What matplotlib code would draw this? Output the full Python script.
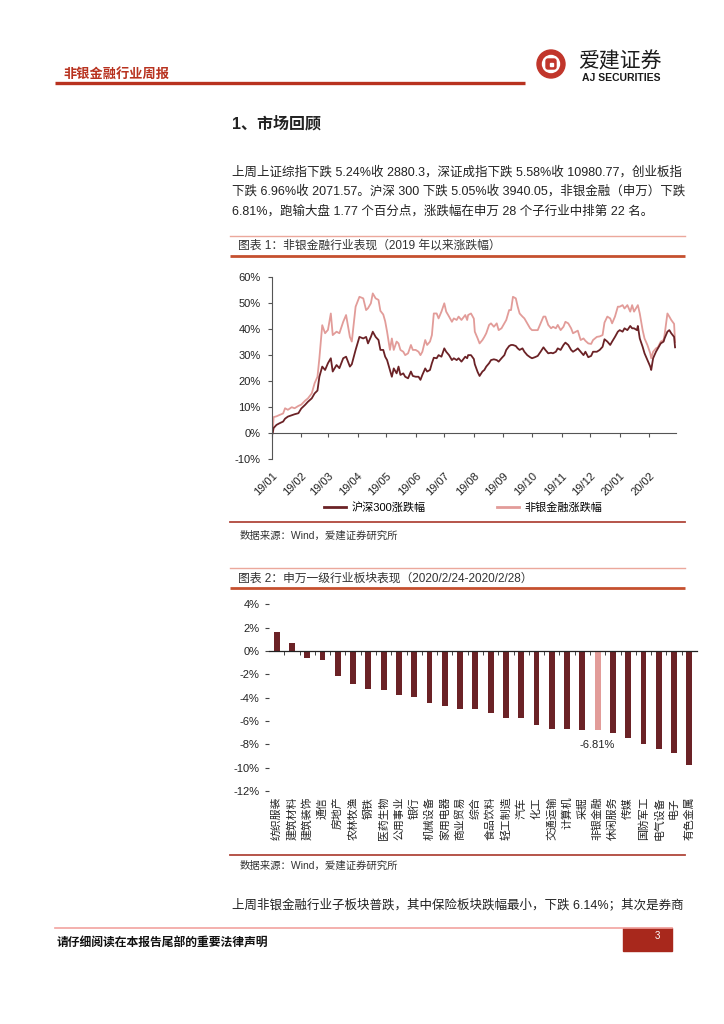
import matplotlib
matplotlib.use('Agg')
import matplotlib.pyplot as plt
import matplotlib.dates as mdates
from matplotlib.patches import Circle, Rectangle, FancyBboxPatch
import numpy as np
import pandas as pd

plt.rcParams['font.family'] = ['Liberation Sans', 'Noto Sans CJK SC', 'DejaVu Sans']
plt.rcParams['axes.unicode_minus'] = False

W, H = 724, 1024

# ---------------- Chart 1 data (cumulative change since 2019, %) ----------------
dates = [
    '2019-01-02', '2019-01-03', '2019-01-06', '2019-01-09', '2019-01-13', '2019-01-15',
    '2019-01-18', '2019-01-22', '2019-01-25', '2019-01-29', '2019-02-01', '2019-02-05',
    '2019-02-08', '2019-02-12', '2019-02-15', '2019-02-18', '2019-02-20', '2019-02-23',
    '2019-02-26', '2019-03-01', '2019-03-04', '2019-03-06', '2019-03-10', '2019-03-13',
    '2019-03-17', '2019-03-20', '2019-03-24', '2019-03-26', '2019-03-30', '2019-04-03',
    '2019-04-07', '2019-04-10', '2019-04-12', '2019-04-15', '2019-04-17', '2019-04-20',
    '2019-04-23', '2019-04-25', '2019-04-28', '2019-04-30', '2019-05-02', '2019-05-05',
    '2019-05-07', '2019-05-09', '2019-05-12', '2019-05-14', '2019-05-16', '2019-05-19',
    '2019-05-21', '2019-05-24', '2019-05-27', '2019-05-29', '2019-06-01', '2019-06-04',
    '2019-06-06', '2019-06-08', '2019-06-11', '2019-06-13', '2019-06-16', '2019-06-18',
    '2019-06-20', '2019-06-23', '2019-06-25', '2019-06-28', '2019-07-01', '2019-07-03',
    '2019-07-06', '2019-07-09', '2019-07-11', '2019-07-14', '2019-07-16', '2019-07-19',
    '2019-07-23', '2019-07-25', '2019-07-26', '2019-07-29', '2019-08-01', '2019-08-02',
    '2019-08-05', '2019-08-07', '2019-08-10', '2019-08-12', '2019-08-14', '2019-08-17',
    '2019-08-19', '2019-08-22', '2019-08-25', '2019-08-27', '2019-08-30', '2019-09-02',
    '2019-09-04', '2019-09-07', '2019-09-09', '2019-09-11', '2019-09-14', '2019-09-16',
    '2019-09-18', '2019-09-21', '2019-09-23', '2019-09-26', '2019-09-29', '2019-10-01',
    '2019-10-04', '2019-10-07', '2019-10-10', '2019-10-13', '2019-10-15', '2019-10-18',
    '2019-10-21', '2019-10-23', '2019-10-26', '2019-10-28', '2019-10-31', '2019-11-03',
    '2019-11-05', '2019-11-08', '2019-11-11', '2019-11-13', '2019-11-16', '2019-11-18',
    '2019-11-21', '2019-11-24', '2019-11-26', '2019-11-29', '2019-12-02', '2019-12-04',
    '2019-12-08', '2019-12-11', '2019-12-14', '2019-12-16', '2019-12-19', '2019-12-22',
    '2019-12-24', '2019-12-27', '2019-12-30', '2020-01-01', '2020-01-04', '2020-01-06',
    '2020-01-09', '2020-01-12', '2020-01-14', '2020-01-16', '2020-01-19', '2020-01-20',
    '2020-01-22', '2020-01-25', '2020-01-27', '2020-01-30', '2020-02-02', '2020-02-03',
    '2020-02-05', '2020-02-08', '2020-02-10', '2020-02-13', '2020-02-16', '2020-02-17',
    '2020-02-20', '2020-02-22', '2020-02-24', '2020-02-27', '2020-02-28',
]
hs300_chg = [
    0.0, 2.0, 3.2, 3.8, 4.5, 5.6, 6.4, 6.9, 7.3, 7.7, 9.5, 10.9,
    12.1, 13.4, 15.3, 16.4, 21.7, 25.6, 24.3, 26.9, 28.8, 23.7, 26.2, 25.0,
    28.8, 29.4, 25.6, 26.5, 32.0, 37.0, 36.4, 37.0, 34.5, 37.0, 39.0, 37.0,
    35.8, 32.0, 32.0, 29.4, 28.1, 24.3, 21.7, 24.9, 23.0, 25.6, 22.4, 23.0,
    21.7, 21.1, 23.7, 22.0, 21.7, 21.7, 20.5, 22.4, 24.9, 23.7, 24.3, 26.9,
    29.0, 28.8, 30.0, 29.4, 32.6, 31.3, 30.0, 28.1, 28.8, 28.1, 28.8, 27.5,
    29.4, 28.8, 30.0, 30.0, 28.5, 26.5, 23.5, 22.0, 23.7, 24.3, 25.6, 26.9,
    28.1, 28.4, 28.1, 27.5, 28.8, 30.0, 32.0, 33.5, 33.9, 33.9, 33.5, 32.6,
    32.0, 32.6, 31.3, 30.0, 29.2, 28.8, 29.2, 29.7, 31.3, 33.0, 32.0, 30.7,
    30.9, 30.7, 31.3, 32.6, 32.0, 33.9, 34.8, 33.9, 32.0, 31.3, 32.0, 32.6,
    31.3, 30.0, 31.3, 29.2, 29.7, 31.3, 31.3, 32.0, 33.2, 36.1, 35.2, 33.9,
    35.2, 37.0, 39.0, 39.6, 39.0, 40.3, 39.6, 41.2, 40.3, 40.3, 39.6, 41.2,
    36.4, 33.2, 30.7, 28.1, 25.6, 24.3, 28.8, 31.3, 32.6, 34.5, 35.2, 36.4,
    39.0, 39.6, 38.4, 37.0, 33.0,
]
nonbank_chg = [
    0.0, 6.2, 6.5, 7.0, 7.6, 9.6, 9.0, 10.0, 9.6, 10.5, 11.0, 12.5,
    13.4, 15.3, 19.2, 21.7, 28.8, 41.5, 38.4, 39.7, 46.0, 37.7, 39.0, 38.4,
    42.8, 45.4, 37.0, 35.2, 48.6, 52.4, 51.8, 47.3, 48.0, 49.9, 53.7, 51.8,
    51.2, 47.0, 45.6, 43.0, 39.0, 32.0, 36.4, 32.0, 35.2, 34.5, 32.0, 31.3,
    30.0, 30.7, 33.9, 32.0, 32.0, 31.3, 30.0, 31.3, 35.8, 33.9, 35.2, 37.7,
    46.0, 46.0, 44.1, 46.7, 49.9, 46.7, 44.8, 42.8, 44.1, 43.5, 44.8, 43.5,
    45.4, 43.5, 45.4, 46.0, 44.0, 39.0, 36.4, 34.5, 35.8, 37.0, 38.4, 41.6,
    42.2, 40.9, 42.2, 39.6, 40.3, 42.2, 43.5, 47.3, 47.3, 52.4, 51.8, 48.6,
    46.0, 44.8, 44.1, 42.2, 40.3, 39.6, 39.6, 39.6, 42.2, 44.8, 44.8, 41.6,
    40.3, 40.9, 40.3, 41.6, 39.6, 40.9, 42.8, 42.2, 40.3, 38.4, 39.0, 39.4,
    35.8, 36.4, 35.5, 34.5, 34.3, 35.8, 37.0, 37.2, 37.7, 42.5, 44.8, 44.1,
    42.2, 44.8, 48.6, 48.6, 49.2, 47.9, 49.2, 46.7, 49.2, 46.7, 48.6, 49.2,
    46.0, 39.6, 36.4, 33.9, 30.7, 28.8, 31.3, 32.6, 33.0, 35.2, 35.8, 37.7,
    46.0, 44.8, 43.5, 42.0, 35.0,
]
series_names = ['沪深300涨跌幅', '非银金融涨跌幅']
y1_ticks = [-10, 0, 10, 20, 30, 40, 50, 60]

# ---------------- Chart 2 data (weekly change, %) ----------------
industries = ['纺织服装', '建筑材料', '建筑装饰', '通信', '房地产', '农林牧渔', '钢铁',
              '医药生物', '公用事业', '银行', '机械设备', '家用电器', '商业贸易', '综合',
              '食品饮料', '轻工制造', '汽车', '化工', '交通运输', '计算机', '采掘',
              '非银金融', '休闲服务', '传媒', '国防军工', '电气设备', '电子', '有色金属']
weekly_chg = [1.62, 0.70, -0.57, -0.80, -2.15, -2.83, -3.29, -3.38, -3.75, -3.98,
              -4.49, -4.72, -4.98, -4.98, -5.35, -5.72, -5.72, -6.35, -6.70, -6.72,
              -6.79, -6.81, -7.01, -7.44, -7.98, -8.44, -8.78, -9.80]
highlight = '非银金融'
y2_ticks = [-12, -10, -8, -6, -4, -2, 0, 2, 4]

# ---------------- colours ----------------
DARK = '#6B2226'
LIGHT = '#E29C99'
RED = '#B8321F'
ORANGE = '#C5502F'
TXT = '#222222'
CJK = ['Noto Sans CJK SC', 'DejaVu Sans']

fig = plt.figure(figsize=(W / 100, H / 100), dpi=100)
page = fig.add_axes([0, 0, 1, 1])
page.set_xlim(0, W)
page.set_ylim(H, 0)
page.axis('off')

# ---- header ----
page.text(63, 74, '非银金融行业周报', fontsize=9.5, fontweight='bold', color=RED,
          va='center', ha='left', family=CJK)
page.plot([55, 525], [83, 83], color=RED, lw=2.4, solid_capstyle='butt')
page.add_patch(Circle((551, 64), 14, color='#C1362B'))
page.add_patch(Circle((551, 64), 8.5, color='white'))
page.add_patch(FancyBboxPatch((546, 59), 10, 10, boxstyle='round,pad=0,rounding_size=2',
                              color='#C1362B'))
page.add_patch(Rectangle((549.5, 62.5), 3, 3, color='white'))
page.text(578, 61, '爱建证券', fontsize=15, color='#1a1a1a', va='center', ha='left', family=CJK)
page.text(582, 78, 'AJ SECURITIES', fontsize=7.5, fontweight='bold', color='#1a1a1a',
          va='center', ha='left')

# ---- section title and paragraph ----
page.text(232, 124, '1、市场回顾', fontsize=11.5, fontweight='bold', color=TXT, va='center')
body = ['上周上证综指下跌 5.24%收 2880.3，深证成指下跌 5.58%收 10980.77，创业板指',
        '下跌 6.96%收 2071.57。沪深 300 下跌 5.05%收 3940.05，非银金融（申万）下跌',
        '6.81%，跑输大盘 1.77 个百分点，涨跌幅在申万 28 个子行业中排第 22 名。']
for line, yy in zip(body, [172, 191.5, 211]):
    page.text(232, yy, line, fontsize=9, color=TXT, va='center')


def frame(top_thin, title_y, thick_y, bottom_y, source_y, title):
    page.plot([230, 685], [top_thin, top_thin], color='#EBA89C', lw=1)
    page.text(238, title_y, title, fontsize=8.5, color='#333333', va='center')
    page.plot([230, 685], [thick_y, thick_y], color=ORANGE, lw=2, solid_capstyle='butt')
    page.plot([230, 685], [bottom_y, bottom_y], color='#B0473A', lw=1.3)
    page.text(240, source_y, '数据来源：Wind，爱建证券研究所', fontsize=7.5, color='#333333',
              va='center')


frame(236, 245.5, 255.7, 522, 536, '图表 1：非银金融行业表现（2019 年以来涨跌幅）')
frame(568.3, 578.3, 588.3, 855, 866, '图表 2：申万一级行业板块表现（2020/2/24-2020/2/28）')

page.text(232, 905, '上周非银金融行业子板块普跌，其中保险板块跌幅最小，下跌 6.14%；其次是券商',
          fontsize=9, color=TXT, va='center')

# ---- footer ----
page.plot([55, 672], [928, 928], color='#F2A3A0', lw=1.2)
page.add_patch(Rectangle((623, 928), 49, 23, color='#A8281C'))
page.text(657, 936, '3', fontsize=7, color='white', va='center', ha='center')
page.text(57, 943, '请仔细阅读在本报告尾部的重要法律声明', fontsize=8.5, fontweight='bold',
          color='#111111', va='center', family=CJK)

# ---------------- Chart 1 ----------------
ax1 = fig.add_axes([271.7 / W, 1 - 459.3 / H, (676 - 271.7) / W, (459.3 - 277) / H])
d = pd.to_datetime(dates)
ax1.plot(d, nonbank_chg, color=LIGHT, lw=1.3, label=series_names[1])
ax1.plot(d, hs300_chg, color=DARK, lw=1.3, label=series_names[0])
ax1.set_ylim(-10, 60)
ax1.set_yticks(y1_ticks)
ax1.set_yticklabels([f'{v}%' for v in y1_ticks])
ax1.set_xlim(pd.Timestamp('2019-01-01'), pd.Timestamp('2020-02-29'))
ax1.xaxis.set_major_locator(mdates.MonthLocator())
ax1.xaxis.set_major_formatter(mdates.DateFormatter('%y/%m'))
for s in ['top', 'right']:
    ax1.spines[s].set_visible(False)
ax1.spines['bottom'].set_position(('data', 0))
ax1.spines['bottom'].set_color('#555555')
ax1.spines['left'].set_color('#555555')
ax1.spines['bottom'].set_linewidth(0.8)
ax1.spines['left'].set_linewidth(0.8)
ax1.tick_params(axis='x', direction='out', length=3, pad=24, labelsize=8, colors='#555555',
                labelcolor='#222222')
ax1.tick_params(axis='y', direction='out', length=3, pad=5, labelsize=8, colors='#555555',
                labelcolor='#222222')
plt.setp(ax1.get_xticklabels(), rotation=45, ha='right', va='top', rotation_mode='anchor')
ax1.patch.set_alpha(0)
h, l = ax1.get_legend_handles_labels()
leg = ax1.legend(h[::-1], l[::-1], loc='center', bbox_to_anchor=(0.473, -0.262), ncol=2,
                 frameon=False, fontsize=8, handlelength=2.0, handletextpad=0.5,
                 columnspacing=6.4)
for ln in leg.get_lines():
    ln.set_linewidth(2)

# ---------------- Chart 2 ----------------
ax2 = fig.add_axes([269 / W, 1 - 791 / H, (697 - 269) / W, (791 - 604.3) / H])
xpos = np.arange(len(industries))
colors = [LIGHT if n == highlight else DARK for n in industries]
ax2.bar(xpos, weekly_chg, width=0.38, color=colors, zorder=2)
ax2.set_xlim(-0.5, len(industries) - 0.5)
ax2.set_ylim(-12, 4)
ax2.set_yticks(y2_ticks)
ax2.set_yticklabels([f'{v}%' for v in y2_ticks])
for s in ['top', 'right', 'left']:
    ax2.spines[s].set_visible(False)
ax2.spines['bottom'].set_position(('data', 0))
ax2.spines['bottom'].set_linewidth(0.9)
ax2.spines['bottom'].set_color('#222222')
ax2.spines['bottom'].set_zorder(3)
ax2.set_xticks(xpos)
ax2.set_xticklabels(industries, rotation=90, family=CJK, fontsize=7.8)
ax2.set_xticks(np.arange(0.5, len(industries) - 1, 1), minor=True)
ax2.tick_params(axis='x', which='major', length=0, pad=105, labelcolor='#222222')
ax2.tick_params(axis='x', which='minor', length=3, direction='out', color='#222222')
ax2.tick_params(axis='y', length=3, direction='out', pad=4, labelsize=8, color='#444444',
                labelcolor='#222222')
for lab in ax2.get_xticklabels():
    lab.set_va('top')
    lab.set_ha('center')
hi = industries.index(highlight)
ax2.annotate(f'{weekly_chg[hi]:.2f}%', xy=(hi, weekly_chg[hi]), xytext=(0, -7),
             textcoords='offset points', ha='center', va='top', fontsize=8, color='#222222')
ax2.patch.set_alpha(0)

fig.savefig('out.png', dpi=100)
